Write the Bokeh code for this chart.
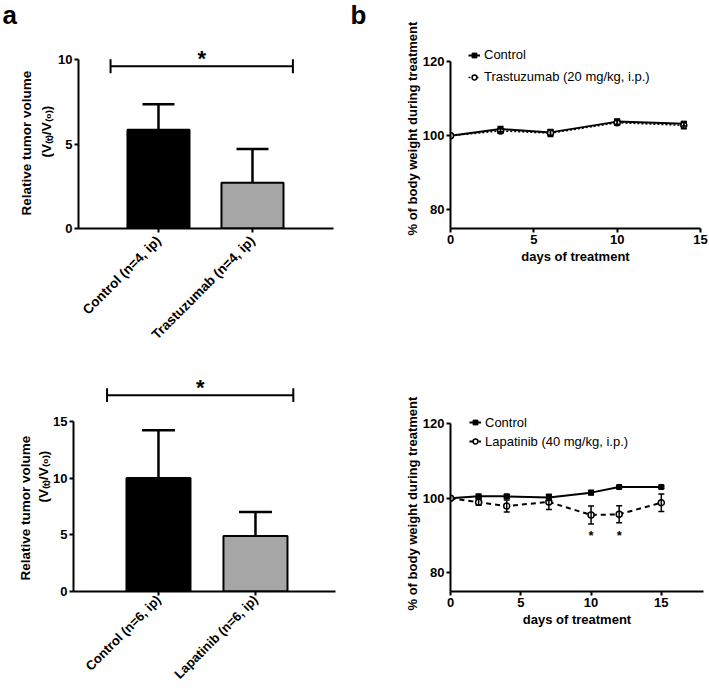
from math import pi
from bokeh.plotting import figure
from bokeh.layouts import column, row
from bokeh.models import (Range1d, FixedTicker, Legend, LegendItem, Title, Label,
                          Whisker, TeeHead, ColumnDataSource)
from bokeh.embed import file_html
from bokeh.resources import INLINE
from bokeh.core.properties import value

FONT = "Liberation Sans"

# ---------------- data ----------------
# panel a, top: relative tumor volume
a1_groups = ["Control (n=4, ip)", "Trastuzumab (n=4, ip)"]
a1_means = [5.85, 2.70]
a1_sem = [1.50, 2.00]
a1_yticks = [0, 5, 10]
a1_sig_span = [0.49, 2.43]
a1_sig_level = 9.6

# panel a, bottom
a2_groups = ["Control (n=6, ip)", "Lapatinib (n=6, ip)"]
a2_means = [10.0, 4.9]
a2_sem = [4.2, 2.1]
a2_yticks = [0, 5, 10, 15]
a2_sig_span = [0.47, 2.39]
a2_sig_level = 17.3

# panel b, top: body weight (%)
b1_days = [0, 3, 6, 10, 14]
b1_ctrl = [100.0, 101.8, 100.9, 103.8, 103.2]
b1_ctrl_err = [0.0, 0.7, 0.8, 0.7, 0.6]
b1_trt = [100.0, 101.3, 100.7, 103.5, 102.8]
b1_trt_err = [0.0, 0.6, 0.9, 0.6, 0.9]
b1_labels = ["Control", "Trastuzumab (20 mg/kg, i.p.)"]

# panel b, bottom
b2_days = [0, 2, 4, 7, 10, 12, 15]
b2_ctrl = [100.0, 100.5, 100.5, 100.2, 101.5, 103.0, 103.0]
b2_ctrl_err = [0.0, 0.5, 0.5, 0.8, 0.6, 0.3, 0.3]
b2_trt = [100.0, 98.9, 97.9, 99.0, 95.5, 95.7, 98.8]
b2_trt_err = [0.0, 0.8, 1.6, 2.0, 2.4, 2.3, 2.35]
b2_labels = ["Control", "Lapatinib (40 mg/kg, i.p.)"]
b2_sig_days = [10, 12]
b2_sig_y = [89.9, 89.9]

b_yticks = [80, 100, 120]
b_xticks = [0, 5, 10, 15]

YT_LINE1 = "Relative tumor volume"
YT_LINE2 = "(V\u208d\u209c\u208e/V\u208d\u2080\u208e)"
YT_B = "% of body weight during treatment"

BAR_COLORS = ["#000000", "#a6a6a6"]


def style_axes(p, size="13px"):
    for ax in (p.xaxis[0], p.yaxis[0]):
        ax.axis_line_width = 2
        ax.axis_line_color = "black"
        ax.major_tick_line_width = 2
        ax.major_tick_line_color = "black"
        ax.major_tick_out = 4
        ax.major_tick_in = 0
        ax.minor_tick_line_color = None
        ax.major_label_text_font = FONT
        ax.major_label_text_font_style = "bold"
        ax.major_label_text_font_size = size
        ax.major_label_text_color = "black"
        ax.major_label_standoff = 2
    p.xgrid.visible = False
    p.ygrid.visible = False
    p.outline_line_color = None
    p.background_fill_color = "white"
    p.border_fill_color = "white"


def side_title(p, text, size, offset, standoff):
    # left-side title, text starts `offset` px above the frame bottom
    p.add_layout(Title(text=text, align="left", offset=offset, standoff=standoff,
                       text_font=FONT, text_font_style="bold", text_font_size=size,
                       text_color="black"), "left")


def panel_letter(p, letter, dx, dy):
    # panel letter placed in the top border panel (not clipped by the frame)
    p.add_layout(Label(x=dx, y=dy, x_units="screen", y_units="screen", text=letter,
                       text_align="left", text_baseline="alphabetic",
                       text_font=FONT, text_font_style="bold", text_font_size="26px",
                       text_color="black"), "above")


def new_fig(width, height, borders, xr, yr):
    left, right, top, bottom = borders
    return figure(width=width, height=height, x_range=Range1d(*xr), y_range=Range1d(*yr),
                  output_backend="svg", toolbar_location=None,
                  min_border_left=left, min_border_right=right,
                  min_border_top=top, min_border_bottom=bottom)


def bar_panel(groups, means, sem, yticks, sig_span, sig_level, cap_h,
              width, height, borders, xr, yr, lab_size, lab_standoff):
    p = new_fig(width, height, borders, xr, yr)
    style_axes(p)
    xs = [i + 1 for i in range(len(groups))]
    tops = [m + e for m, e in zip(means, sem)]
    # error bars (upper only)
    p.segment(x0=xs, y0=means, x1=xs, y1=tops, line_color="black", line_width=2.5)
    p.segment(x0=[x - 0.17 for x in xs], y0=tops, x1=[x + 0.17 for x in xs], y1=tops,
              line_color="black", line_width=2.5)
    p.vbar(x=xs, top=means, bottom=0, width=0.66, fill_color=BAR_COLORS,
           line_color="black", line_width=2)
    # significance bracket
    p.segment(x0=[sig_span[0]], y0=[sig_level], x1=[sig_span[1]], y1=[sig_level],
              line_color="black", line_width=2)
    p.segment(x0=sig_span, y0=[sig_level - cap_h] * 2, x1=sig_span,
              y1=[sig_level + cap_h] * 2, line_color="black", line_width=2)
    p.text(x=[sum(sig_span) / 2], y=[sig_level], text=["*"], text_align="center",
           text_baseline="alphabetic", text_font=value(FONT), text_font_style="bold",
           text_font_size="22px", text_color="black", y_offset=-8)
    p.yaxis.ticker = FixedTicker(ticks=yticks)
    p.yaxis.bounds = (yticks[0], yticks[-1])
    p.xaxis.ticker = FixedTicker(ticks=xs)
    p.xaxis.major_label_overrides = {x: g for x, g in zip(xs, groups)}
    p.xaxis.major_label_orientation = pi / 4
    p.xaxis.major_label_text_font_size = lab_size
    p.xaxis.major_label_standoff = lab_standoff
    return p


def line_panel(days, ctrl, ctrl_err, trt, trt_err, labels, dash,
               width, height, borders, xr, yr, legend_loc, spacing):
    p = new_fig(width, height, borders, xr, yr)
    style_axes(p)
    l1 = p.line(days, ctrl, line_color="black", line_width=2)
    l2 = p.line(days, trt, line_color="black", line_width=2 if dash != "2 2" else 1.5,
                line_dash=dash)
    for vals, errs in ((ctrl, ctrl_err), (trt, trt_err)):
        idx = [i for i, e in enumerate(errs) if e > 0]
        src = ColumnDataSource(dict(base=[days[i] for i in idx],
                                    upper=[vals[i] + errs[i] for i in idx],
                                    lower=[vals[i] - errs[i] for i in idx]))
        p.add_layout(Whisker(source=src, base="base", upper="upper", lower="lower",
                             dimension="height", line_color="black", line_width=1.5,
                             upper_head=TeeHead(size=6, line_width=1.5, line_color="black"),
                             lower_head=TeeHead(size=6, line_width=1.5, line_color="black"),
                             level="glyph"))
    m1 = p.scatter(days, ctrl, marker="square", size=5, fill_color="black", line_color="black")
    m2 = p.scatter(days, trt, marker="circle", size=6, fill_color="white",
                   line_color="black", line_width=1.5)
    p.yaxis.ticker = FixedTicker(ticks=b_yticks)
    p.yaxis.bounds = (75, 120)
    p.xaxis.ticker = FixedTicker(ticks=b_xticks)
    p.xaxis.axis_label = "days of treatment"
    p.xaxis.axis_label_text_font = FONT
    p.xaxis.axis_label_text_font_style = "bold"
    p.xaxis.axis_label_text_font_size = "13px"
    p.xaxis.axis_label_text_color = "black"
    p.xaxis.axis_label_standoff = 2
    leg = Legend(items=[LegendItem(label=labels[0], renderers=[l1, m1]),
                        LegendItem(label=labels[1], renderers=[l2, m2])],
                 location=legend_loc, border_line_color=None, background_fill_alpha=0,
                 padding=0, margin=0, spacing=spacing, glyph_width=12, glyph_height=14,
                 label_height=14, label_standoff=4, label_text_font=FONT,
                 label_text_font_size="13px", label_text_color="black")
    p.add_layout(leg)
    return p


ROW1_H = 352
ROW2_H = 338

# ---- panel a top ----
pa1 = bar_panel(a1_groups, a1_means, a1_sem, a1_yticks, a1_sig_span, a1_sig_level, 0.42,
                350, ROW1_H, (78, 17, 46, 124), (0.149, 2.862), (0, 10.77),
                "13.5px", 6)
side_title(pa1, YT_LINE2, "13.5px", 71, 4)
side_title(pa1, YT_LINE1, "13.5px", 13, 1)
panel_letter(pa1, "a", -76, 32)

# ---- panel a bottom ----
pa2 = bar_panel(a2_groups, a2_means, a2_sem, a2_yticks, a2_sig_span, a2_sig_level, 0.61,
                350, ROW2_H, (73, 15, 20, 99), (0.124, 2.825), (0, 19.3),
                "13px", 2)
side_title(pa2, YT_LINE2, "13.5px", 89, 0)
side_title(pa2, YT_LINE1, "13.5px", 11, 2)

# ---- panel b top ----
pb1 = line_panel(b1_days, b1_ctrl, b1_ctrl_err, b1_trt, b1_trt_err, b1_labels, "2 2",
                 359, ROW1_H, (100, 9, 46, 124), (0, 15), (75, 124.04), (18, 144), 7)
side_title(pb1, YT_B, "13px", -7, 0)
panel_letter(pb1, "b", -100, 32)

# ---- panel b bottom ----
pb2 = line_panel(b2_days, b2_ctrl, b2_ctrl_err, b2_trt, b2_trt_err, b2_labels, "5 4",
                 359, ROW2_H, (100, 6, 20, 99), (0, 18), (75, 133.7), (19, 142.5), 4)
pb2.text(x=b2_sig_days, y=b2_sig_y, text=["*"] * len(b2_sig_days), text_align="center",
         text_baseline="alphabetic", text_font=value(FONT), text_font_style="bold",
         text_font_size="13px", text_color="black")
side_title(pb2, YT_B, "13px", -19, 0)

layout = column(row(pa1, pb1), row(pa2, pb2))
open("out.html", "w").write(file_html(layout, INLINE))
